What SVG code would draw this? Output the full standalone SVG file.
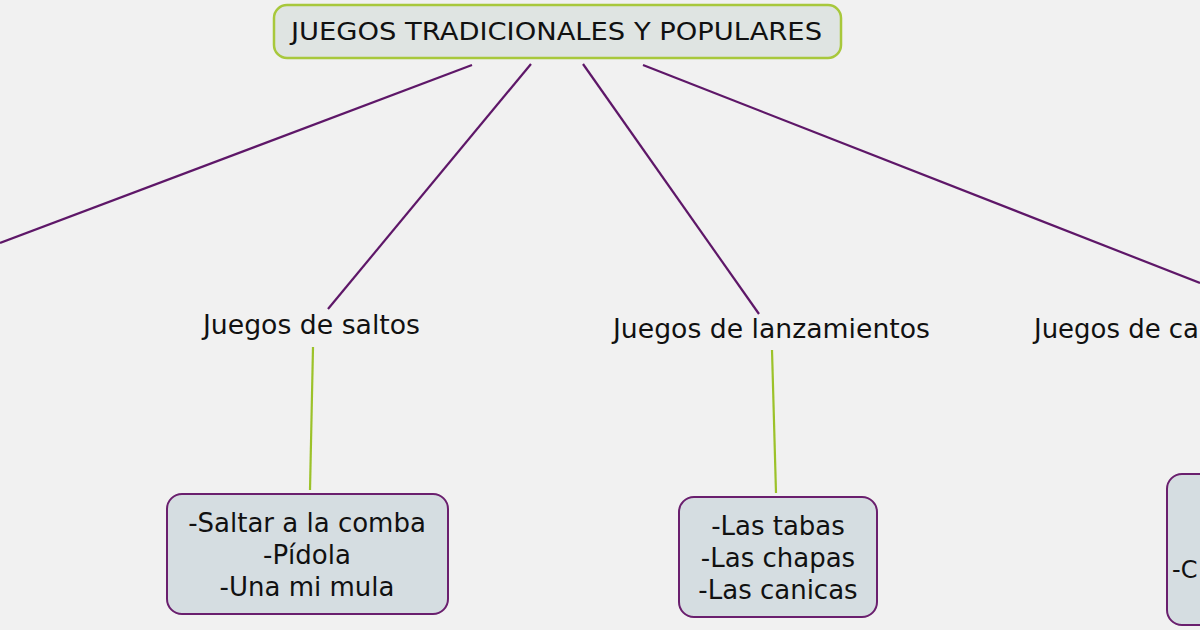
<svg xmlns="http://www.w3.org/2000/svg" width="1200" height="630" viewBox="0 0 1200 630">
<style>
.t{font-family:"DejaVu Sans","Noto Sans",sans-serif;fill:#111;}
.lbl{font-size:26px;}
.box{fill:#d5dde1;stroke:#6a1f6e;stroke-width:2;}
.main{fill:#dfe4e2;stroke:#a8c83c;stroke-width:2.5;}
.purple{stroke:#5e1768;stroke-width:2.2;fill:none;}
.green{stroke:#9cc22a;stroke-width:2.2;fill:none;}
</style>
<rect width="1200" height="630" fill="#f1f1f1"/>
<g id="connectors">
<line class="purple" x1="472" y1="65" x2="0" y2="243"/>
<line class="purple" x1="531" y1="64" x2="328" y2="309"/>
<line class="purple" x1="583" y1="64" x2="759" y2="314"/>
<line class="purple" x1="643" y1="65" x2="1200" y2="283"/>
<line class="green" x1="313" y1="347" x2="310" y2="490"/>
<line class="green" x1="772" y1="350" x2="776" y2="493"/>
</g>
<g id="root">
<rect class="main" x="274" y="5" width="567" height="53" rx="13"/>
<text class="t" x="291" y="40" font-size="25" textLength="531" lengthAdjust="spacingAndGlyphs">JUEGOS TRADICIONALES Y POPULARES</text>
</g>
<g id="saltos">
<text class="t lbl" x="203" y="334" textLength="217" lengthAdjust="spacingAndGlyphs">Juegos de saltos</text>
</g>
<g id="lanzamientos">
<text class="t lbl" x="613" y="338" textLength="317" lengthAdjust="spacingAndGlyphs">Juegos de lanzamientos</text>
</g>
<g id="ca">
<text class="t lbl" x="1034" y="338" textLength="165" lengthAdjust="spacingAndGlyphs">Juegos de ca</text>
</g>
<g id="saltos-list">
<rect class="box" x="167" y="494" width="281" height="120" rx="15"/>
<text class="t" font-size="26" text-anchor="middle"><tspan x="307" y="532">-Saltar a la comba</tspan><tspan x="307" y="564">-Pídola</tspan><tspan x="307" y="596">-Una mi mula</tspan></text>
</g>
<g id="lanzamientos-list">
<rect class="box" x="679" y="497" width="198" height="120" rx="15"/>
<text class="t" font-size="26" text-anchor="middle"><tspan x="778" y="535">-Las tabas</tspan><tspan x="778" y="567">-Las chapas</tspan><tspan x="778" y="599">-Las canicas</tspan></text>
</g>
<g id="ca-list">
<rect class="box" x="1167" y="474" width="60" height="151" rx="15"/>
<text class="t" font-size="24" x="1172" y="578">-C</text>
</g>
</svg>
